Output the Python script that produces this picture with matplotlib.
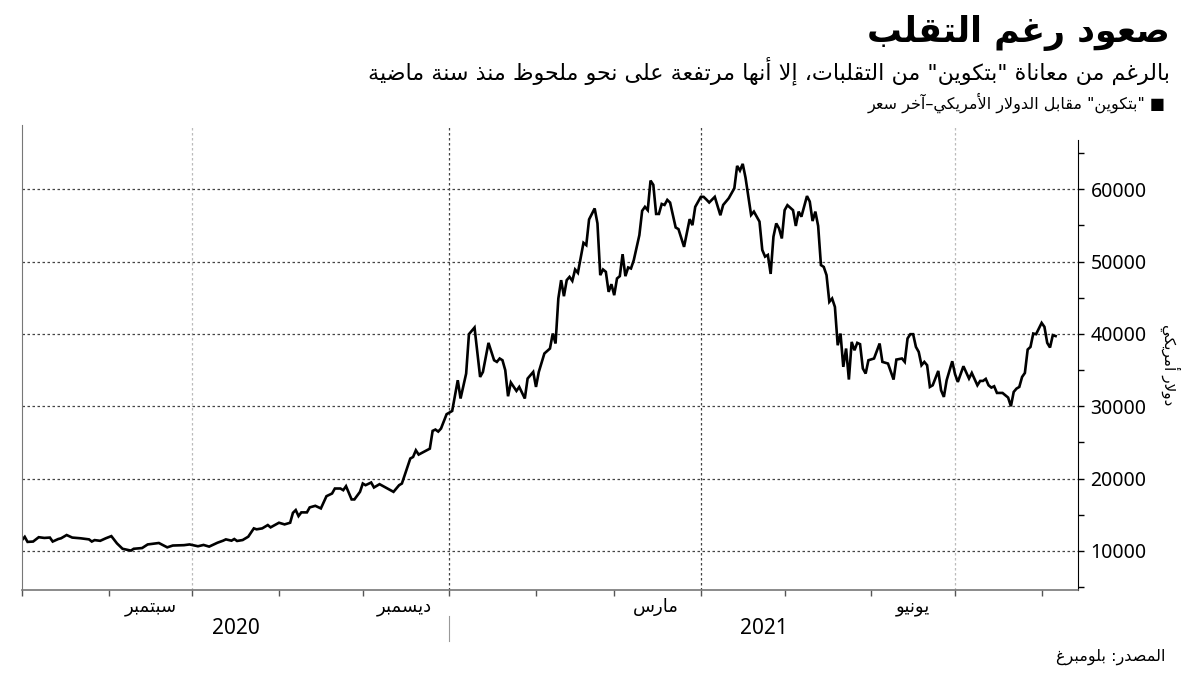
import pandas as pd
import matplotlib
matplotlib.use("Agg")
import matplotlib.pyplot as plt
import matplotlib.dates as mdates
from matplotlib.ticker import MultipleLocator, NullFormatter

# ---- data ----
start_date = "2020-08-01"
day_offsets = [0, 1, 2, 4, 6, 8, 10, 11, 13, 14, 16, 18, 21, 24, 25, 26, 28, 30, 32, 34,
               36, 39, 40, 43, 45, 49, 52, 54, 58, 60, 63, 65, 67, 70, 72, 73, 75, 76, 77, 79,
               81, 83, 84, 86, 88, 89, 92, 94, 96, 97, 98, 99, 100, 102, 103, 105, 107, 109, 111, 112,
               114, 115, 116, 118, 119, 121, 122, 123, 125, 126, 128, 133, 135, 136, 139, 140, 141, 142, 146, 147,
               148, 149, 150, 152, 154, 156, 157, 159, 160, 162, 164, 165, 167, 169, 170, 171, 172, 173, 174, 175,
               177, 178, 180, 181, 183, 184, 185, 187, 189, 190, 191, 192, 193, 194, 195, 196, 197, 198, 199, 201,
               202, 203, 205, 206, 207, 208, 209, 210, 211, 212, 213, 214, 215, 216, 217, 218, 219, 221, 222, 223,
               224, 225, 226, 227, 228, 229, 230, 231, 232, 234, 235, 237, 239, 240, 241, 243, 244, 245, 246, 248,
               250, 251, 253, 255, 256, 257, 258, 259, 261, 262, 264, 265, 266, 267, 268, 269, 270, 271, 272, 273,
               274, 276, 277, 278, 279, 281, 282, 283, 284, 285, 286, 287, 288, 289, 290, 291, 292, 293, 294, 295,
               296, 297, 298, 299, 300, 301, 302, 303, 305, 307, 308, 310, 312, 313, 315, 316, 317, 318, 319, 320,
               321, 322, 323, 324, 325, 326, 328, 329, 330, 331, 333, 334, 335, 337, 339, 340, 342, 343, 344, 345,
               346, 347, 348, 349, 351, 353, 354, 355, 356, 357, 358, 359, 360, 361, 362, 363, 365, 366, 367, 368,
               369, 370]
btc_close = [11500, 11950, 11250, 11300, 11900, 11800, 11850, 11300, 11650, 11750, 12200, 11850, 11750, 11600, 11300, 11500, 11400, 11750, 12050, 11050,
             10300, 10050, 10300, 10400, 10900, 11100, 10500, 10750, 10800, 10900, 10650, 10830, 10600, 11140, 11420, 11600, 11420, 11650, 11380, 11510,
             11970, 13120, 12990, 13120, 13580, 13260, 13900, 13670, 13900, 15270, 15650, 14820, 15330, 15330, 16020, 16240, 15880, 17570, 17940, 18630,
             18630, 18400, 18950, 17120, 17120, 18170, 19320, 19090, 19460, 18770, 19230, 18170, 19090, 19320, 22770, 22990, 23910, 23320, 24140, 26600,
             26780, 26500, 26920, 28900, 29350, 33600, 31070, 34520, 39960, 40880, 34050, 34740, 38760, 36360, 36130, 36600, 36360, 34980, 31380, 33280,
             32120, 32670, 31070, 33830, 34740, 32670, 34740, 37290, 37980, 40050, 38670, 44900, 47430, 45210, 47430, 47880, 47330, 48900, 48440, 52590,
             52270, 55820, 57340, 55270, 48120, 48900, 48580, 45810, 46870, 45350, 47660, 47980, 51020, 47980, 49180, 49040, 50190, 53650, 57010, 57560,
             57100, 61190, 60600, 56580, 56580, 57960, 57820, 58520, 58150, 54710, 54480, 52030, 55860, 55030, 57560, 58940, 58940, 58570, 58160, 58940,
             56400, 57820, 58750, 60130, 63220, 62570, 63500, 61600, 56440, 56900, 55520, 51600, 50680, 50910, 48290, 53440, 55270, 54580, 53190, 57100,
             57790, 57100, 54920, 56900, 56200, 59050, 58290, 55600, 56900, 54920, 49510, 49260, 48120, 44430, 44890, 43730, 38430, 40050, 35440, 37980,
             33690, 38890, 37740, 38760, 38580, 35220, 34520, 36360, 36600, 38670, 36130, 35900, 33690, 36450, 36600, 36130, 39370, 39960, 39960, 38200,
             37510, 35670, 36130, 35670, 32670, 32900, 34880, 32210, 31290, 33600, 36220, 34430, 33360, 35530, 33830, 34600, 32900, 33500, 33500, 33780,
             32900, 32580, 32760, 31840, 31840, 31200, 30000, 31980, 32440, 32670, 34050, 34600, 37840, 38200, 40050, 39960, 41520, 40970, 38760, 38120,
             39830, 39700]

y_ticks = [10000, 20000, 30000, 40000, 50000, 60000]
month_labels = ["سبتمبر", "ديسمبر", "مارس", "يونيو"]
month_label_dates = ["2020-09-16", "2020-12-16", "2021-03-16", "2021-06-16"]
grid_dates = ["2020-10-01", "2021-01-01", "2021-04-01", "2021-07-01"]
year_labels = ["2020", "2021"]
year_break = "2021-01-01"
x_range = ["2020-08-01", "2021-08-14"]

title = "صعود رغم التقلب"
subtitle = 'بالرغم من معاناة "بتكوين" من التقلبات، إلا أنها مرتفعة على نحو ملحوظ منذ سنة ماضية'
legend_label = '"بتكوين" مقابل الدولار الأمريكي–آخر سعر'
y_label = "دولار أمريكي"
source = "المصدر: بلومبرغ"


# matplotlib has no arabic shaping -> map to presentation forms and reverse
DUAL = {'ئ': 0xFE89, 'ب': 0xFE8F, 'ت': 0xFE95, 'ث': 0xFE99, 'ج': 0xFE9D, 'ح': 0xFEA1, 'خ': 0xFEA5,
        'س': 0xFEB1, 'ش': 0xFEB5, 'ص': 0xFEB9, 'ض': 0xFEBD, 'ط': 0xFEC1, 'ظ': 0xFEC5, 'ع': 0xFEC9,
        'غ': 0xFECD, 'ف': 0xFED1, 'ق': 0xFED5, 'ك': 0xFED9, 'ل': 0xFEDD, 'م': 0xFEE1, 'ن': 0xFEE5,
        'ه': 0xFEE9, 'ي': 0xFEF1}
RIGHT = {'آ': 0xFE81, 'أ': 0xFE83, 'ؤ': 0xFE85, 'إ': 0xFE87, 'ا': 0xFE8D, 'ة': 0xFE93, 'د': 0xFEA9,
         'ذ': 0xFEAB, 'ر': 0xFEAD, 'ز': 0xFEAF, 'و': 0xFEED, 'ى': 0xFEEF}
LAM_ALEF = {'آ': 0xFEF5, 'أ': 0xFEF7, 'إ': 0xFEF9, 'ا': 0xFEFB}


def rtl(text):
    units = []
    i = 0
    while i < len(text):
        c = text[i]
        if c == 'ل' and i + 1 < len(text) and text[i + 1] in LAM_ALEF:
            units.append(('R', LAM_ALEF[text[i + 1]]))
            i += 2
            continue
        if c in DUAL:
            units.append(('D', DUAL[c]))
        elif c in RIGHT:
            units.append(('R', RIGHT[c]))
        else:
            units.append((None, c))
        i += 1
    out = []
    for k, (kind, base) in enumerate(units):
        if kind is None:
            out.append(base)
            continue
        prev_j = k > 0 and units[k - 1][0] == 'D'
        next_j = kind == 'D' and k + 1 < len(units) and units[k + 1][0] is not None
        if prev_j and next_j:
            code = base + 3
        elif prev_j:
            code = base + 1
        elif next_j:
            code = base + 2
        else:
            code = base
        out.append(chr(code))
    return ''.join(out[::-1])


plt.rcParams['font.family'] = ['DejaVu Sans']

dates = pd.Timestamp(start_date) + pd.to_timedelta(day_offsets, unit="D")

fig = plt.figure(figsize=(12, 6.75), dpi=100)
ax = fig.add_axes([0.0183, 0.126, 0.88, 0.689])

ax.plot(dates, btc_close, color="black", lw=1.9, solid_joinstyle="miter")

ax.set_xlim(pd.Timestamp(x_range[0]), pd.Timestamp(x_range[1]))
ax.set_ylim(4610, 68890)

# y axis on the right
ax.yaxis.tick_right()
ax.set_yticks(y_ticks)
ax.yaxis.set_minor_locator(MultipleLocator(5000))
ax.tick_params(axis="y", which="both", direction="out", length=4, width=1, color="black",
               labelsize=14, pad=5)
for lab in ax.get_yticklabels():
    lab.set_fontfamily("Noto Sans")
ax.yaxis.grid(True, which="major", ls=(0, (2, 2)), color="#444444", lw=0.9)

# x axis: month ticks, labels between them
ax.xaxis.set_major_locator(mdates.MonthLocator())
ax.xaxis.set_major_formatter(NullFormatter())
ax.set_xticks([pd.Timestamp(d) for d in month_label_dates], minor=True)
ax.set_xticklabels([rtl(m) for m in month_labels], minor=True)
ax.tick_params(axis="x", which="major", direction="out", length=4, width=1, color="#555555")
ax.tick_params(axis="x", which="minor", length=0, labelsize=13, pad=6)

grid_cols = ["#bbbbbb", "#444444", "#444444", "#bbbbbb"]
for d, c in zip(grid_dates, grid_cols):
    ax.axvline(pd.Timestamp(d), color=c, ls=(0, (2, 2)), lw=0.9, zorder=0)

ax.spines["top"].set_visible(False)
ax.spines["left"].set_color("#777777")
ax.spines["bottom"].set_color("#777777")
ax.spines["right"].set_color("black")
ax.spines["right"].set_bounds(4610, 66800)
ax.spines["bottom"].set_linewidth(1.2)

# year labels centred on the visible part of each year
lo, hi, brk = (pd.Timestamp(x_range[0]), pd.Timestamp(x_range[1]), pd.Timestamp(year_break))
trans = ax.get_xaxis_transform()
ax.text(lo + (brk - lo) / 2, -0.082, year_labels[0], transform=trans, ha="center", va="center",
        fontsize=15, family="Noto Sans")
ax.text(brk + (hi - brk) / 2, -0.082, year_labels[1], transform=trans, ha="center", va="center",
        fontsize=15, family="Noto Sans")
ax.plot([brk, brk], [-0.055, -0.11], transform=trans, color="#999999", lw=0.8, clip_on=False)

# texts
fig.text(0.975, 0.951, rtl(title), ha="right", va="center", fontsize=25, fontweight="bold")
fig.text(0.975, 0.896, rtl(subtitle), ha="right", va="center", fontsize=16)
fig.text(0.971, 0.847, rtl(legend_label) + " ■", ha="right", va="center", fontsize=11.5)
fig.text(0.971, 0.027, rtl(source), ha="right", va="center", fontsize=11.5)
fig.text(0.975, 0.459, rtl(y_label), ha="center", va="center", fontsize=11, rotation=270)

fig.savefig("out.png", dpi=100)
